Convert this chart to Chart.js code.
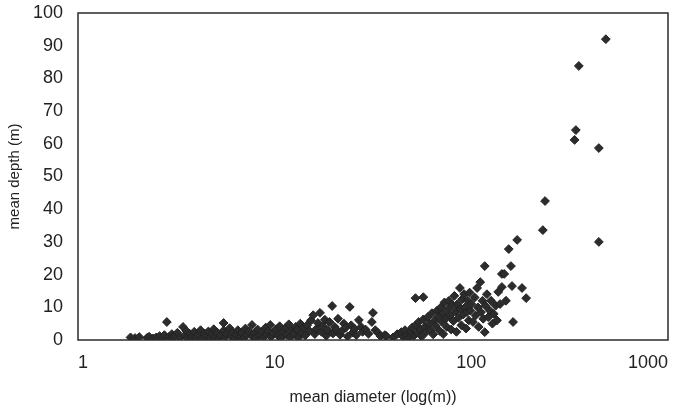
<!DOCTYPE html>
<html>
<head>
<meta charset="utf-8">
<script src="https://cdn.jsdelivr.net/npm/chart.js@4.4.1/dist/chart.umd.min.js"></script>
<style>
  html, body { margin: 0; padding: 0; background: #fff; }
  #wrap { width: 683px; height: 408px; }
</style>
</head>
<body>
<div id="wrap"><canvas id="craterChart" width="683" height="408"></canvas></div>
<script>
// mean diameter (m) and mean depth (m)
const diameters = [
  1.85, 1.95, 2.05, 2.25, 2.3, 2.4, 2.5, 2.6, 2.7, 2.75, 2.83, 2.9, 3.0, 3.0,
  3.1, 3.2, 3.3, 3.42, 3.5, 3.55, 3.6, 3.7, 3.8, 3.9, 4.0, 4.1, 4.2, 4.3, 4.4, 4.5, 4.6, 4.7, 4.8, 4.9,
  5.0, 5.1, 5.2, 5.3, 5.5, 5.5, 5.6, 5.7, 5.9, 6.0, 6.1, 6.3, 6.4, 6.5, 6.7, 6.8, 7.0, 7.1, 7.2, 7.4,
  7.67, 7.7, 7.9, 8.0, 8.2, 8.4, 8.6, 8.8, 9.0, 9.1, 9.3, 9.5, 9.6, 9.8,
  10.2, 10.4, 10.6, 10.8, 11.0, 11.3, 11.5, 11.8, 12.0, 12.2, 12.5, 12.8, 13.0, 13.2, 13.5, 13.7,
  14.0, 14.3, 14.6, 15.0, 15.3, 15.7, 16.0, 16.3, 16.6, 17.0, 17.3, 17.6, 18.0, 18.3, 18.6, 19.0,
  19.6, 19.8, 20.2, 20.6, 21.0, 21.5, 22.0, 22.5, 23.0, 23.5, 24.1, 24.5, 25.0, 25.5, 26.0, 26.8,
  27.5, 28.0, 29.0, 30.0, 31.2, 31.6, 32.5, 33.5, 34.5, 36.3, 37,
  40, 42, 44, 45, 46, 47, 48, 49, 50, 51, 52, 52, 53, 54, 55, 56, 57, 57, 58, 59, 60, 61, 62, 63,
  64, 65, 66, 67, 68, 69, 70, 71, 72, 72, 73, 74, 75, 76, 77, 78, 79, 80, 81, 82, 83, 84, 85, 86,
  87.5, 88, 89, 90, 91, 92, 93, 94, 95, 96, 97, 98, 99, 100, 102, 104, 105, 107, 108, 109, 111, 112,
  114, 115, 117, 117, 118, 120, 122, 124, 126, 128, 130, 133, 135, 137, 140, 143, 143, 147, 150,
  155, 159, 161, 163, 171, 181, 190,
  231, 237, 335, 340, 352, 445, 445, 483
];
const depths = [
  0.8, 0.6, 0.9, 0.7, 1.0, 0.5, 0.8, 1.2, 0.6, 1.5, 5.5, 0.9, 1.8, 0.5,
  1.1, 2.2, 0.7, 4.0, 1.5, 2.8, 0.6, 1.9, 1.0, 2.5, 0.8, 1.6, 3.0, 0.5, 2.0, 1.2, 2.6, 0.7, 1.8, 3.3,
  1.0, 2.3, 0.6, 1.5, 5.2, 2.9, 0.9, 1.9, 3.6, 1.2, 2.4, 0.6, 1.7, 3.0, 1.0, 2.2, 0.7, 3.5, 1.5, 2.6,
  4.6, 1.1, 2.0, 0.6, 3.2, 1.4, 2.5, 0.9, 3.8, 1.7, 2.8, 4.6, 1.0, 2.1,
  3.3, 1.3, 4.2, 0.8, 2.5, 3.6, 1.6, 4.8, 0.9, 2.9, 1.9, 4.0, 3.1, 0.7, 5.0, 2.2,
  3.7, 1.4, 4.5, 2.8, 6.0, 7.6, 1.8, 3.4, 5.2, 8.3, 2.5, 4.3, 6.2, 1.3, 3.0, 5.5,
  10.4, 2.0, 4.0, 3.2, 6.5, 1.6, 2.8, 5.0, 3.8, 1.1, 10.1, 4.5, 2.3, 3.4, 1.5, 6.1,
  4.0, 2.5, 3.2, 1.9, 5.5, 8.3, 3.0, 2.2, 1.2, 1.5, 1.2,
  0.8, 1.8, 2.4, 1.0, 3.0, 1.6, 0.7, 2.7, 3.8, 1.3, 12.8, 4.5, 2.2, 5.5, 3.3, 1.1, 13.1, 6.3, 4.0, 2.5, 7.0, 5.0, 3.0, 8.2,
  1.7, 6.0, 4.3, 9.0, 7.2, 2.8, 10.0, 5.5, 1.8, 8.0, 11.5, 6.5, 4.0, 9.5, 12.0, 7.5, 3.2, 10.8, 5.8, 13.5, 8.8, 2.5, 11.0, 6.8,
  15.9, 9.5, 4.5, 12.5, 7.8, 14.0, 10.0, 3.5, 8.5, 12.0, 6.0, 14.5, 9.0, 11.0, 5.5, 13.0, 7.5, 15.9, 10.0, 4.0, 17.7, 8.5,
  12.0, 6.5, 22.6, 2.4, 10.5, 14.0, 7.0, 9.0, 12.0, 5.0, 8.0, 10.5, 6.0, 14.7, 11.0, 16.2, 20.2, 20.2, 12.0,
  27.8, 22.6, 16.5, 5.5, 30.6, 15.9, 12.8,
  33.6, 42.5, 61.2, 64.2, 83.8, 58.7, 30.0, 92.0
];
const xTickLabels = [1, 10, 100, 1000];
const yMin = 0, yMax = 100, yStep = 10;

const points = diameters.map((d, i) => ({ x: d, y: depths[i] }));

// draws the box round the plot area
const plotBox = {
  id: 'plotBox',
  afterDraw(chart) {
    const a = chart.chartArea;
    const c = chart.ctx;
    c.save();
    c.strokeStyle = '#2a2a2a';
    c.lineWidth = 1.5;
    c.strokeRect(a.left, a.top, a.right - a.left, a.bottom - a.top);
    c.restore();
  }
};

const fontFam = 'Liberation Sans, Arial, sans-serif';

new Chart(document.getElementById('craterChart'), {
  type: 'scatter',
  data: {
    datasets: [{
      data: points,
      pointStyle: 'rectRot',
      pointRadius: 4.4,
      pointHoverRadius: 4.4,
      borderWidth: 1,
      backgroundColor: '#2c2c2c',
      borderColor: '#222222'
    }]
  },
  options: {
    responsive: false,
    animation: false,
    layout: { padding: { top: 13, right: 15, left: 0, bottom: 0 } },
    plugins: { legend: { display: false }, tooltip: { enabled: false } },
    scales: {
      x: {
        type: 'logarithmic',
        min: 1,
        max: 1000,
        grid: { display: false },
        border: { display: false },
        afterBuildTicks(scale) {
          scale.ticks = xTickLabels.map(v => ({ value: v }));
        },
        ticks: {
          autoSkip: false,
          maxRotation: 0,
          align: 'inner',
          padding: 4,
          color: '#222',
          font: { family: fontFam, size: 18 },
          callback: (v) => String(v)
        },
        title: {
          display: true,
          text: 'mean diameter (log(m))',
          color: '#222',
          padding: { top: 0, bottom: 1 },
          font: { family: fontFam, size: 16 }
        },
        afterFit(scale) {
          scale.height = 68;
          scale.paddingLeft = 0;
          scale.paddingRight = 0;
        }
      },
      y: {
        min: yMin,
        max: yMax,
        grid: { display: false },
        border: { display: false },
        ticks: {
          stepSize: yStep,
          padding: 7,
          color: '#222',
          font: { family: fontFam, size: 18 }
        },
        title: {
          display: true,
          text: 'mean depth (m)',
          color: '#222',
          padding: { top: 6, bottom: 0 },
          font: { family: fontFam, size: 15 }
        },
        afterFit(scale) {
          scale.width = 78;
          scale.paddingTop = 0;
          scale.paddingBottom = 0;
        }
      }
    }
  },
  plugins: [plotBox]
});
</script>
</body>
</html>
